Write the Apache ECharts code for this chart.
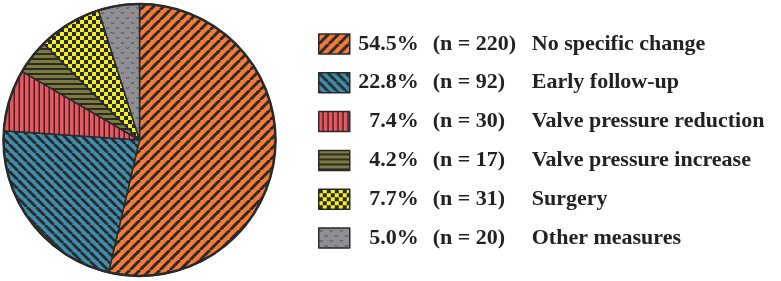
<!DOCTYPE html>
<html>
<head>
<meta charset="utf-8">
<script src="https://cdn.jsdelivr.net/npm/echarts@6/dist/echarts.min.js"></script>
<style>
html,body{margin:0;padding:0;background:#fff;}
#main{width:781px;height:281px;}
</style>
</head>
<body>
<div id="main"></div>
<script>
var names = ['No specific change','Early follow-up','Valve pressure reduction','Valve pressure increase','Surgery','Other measures'];
var counts = [220, 92, 30, 17, 31, 20];
var pcts = ['54.5%','22.8%','7.4%','4.2%','7.7%','5.0%'];

var dark = '#2a2a2a';
var font = 'bold 22px "Liberation Serif"';

// tiles for the hatch fills
function tile(w, h, bg, draw){
	var c = document.createElement('canvas');
	c.width = w; c.height = h;
	var ctx = c.getContext('2d');
	ctx.fillStyle = bg;
	ctx.fillRect(0, 0, w, h);
	ctx.strokeStyle = dark;
	ctx.fillStyle = dark;
	draw(ctx, w, h);
	return {image: c, repeat: 'repeat'};
}

function diag(ctx, s, lw, up){
	ctx.lineWidth = lw;
	for(var k=-s;k<=s;k+=s){
		ctx.beginPath();
		if(up){
			ctx.moveTo(k, s); ctx.lineTo(k+s, 0);
		}else{
			ctx.moveTo(k, 0); ctx.lineTo(k+s, s);
		}
		ctx.stroke();
	}
}

var fills = [
	tile(10, 10, '#f47a38', function(ctx){ diag(ctx, 10, 3, true); }),
	tile(9, 9, '#3e8fae', function(ctx){ diag(ctx, 9, 2.8, false); }),
	tile(5.5, 5, '#f0545f', function(ctx){ ctx.fillRect(3.5, 0, 2, 5); }),
	tile(5, 5, '#7d7b3c', function(ctx){ ctx.fillRect(0, 3, 5, 2); }),
	tile(8, 8, '#f2ef1e', function(ctx){ ctx.fillRect(0, 0, 4, 4); ctx.fillRect(4, 4, 4, 4); }),
	tile(10, 10, '#8e8e93', function(ctx){
		ctx.lineWidth = 1;
		ctx.strokeStyle = '#555';
		ctx.beginPath();
		ctx.moveTo(1, 2); ctx.lineTo(2.5, 4); ctx.lineTo(4, 2);
		ctx.moveTo(6, 7); ctx.lineTo(7.5, 9); ctx.lineTo(9, 7);
		ctx.stroke();
	})
];

var pieData = [];
for(var i=0;i<names.length;i++){
	pieData.push({name: names[i], value: counts[i], itemStyle: {color: fills[i]}});
}

var mctx = document.createElement('canvas').getContext('2d');
mctx.font = font;
function tw(s){ return mctx.measureText(s).width; }

var base = {fontFamily: 'Liberation Serif', fontSize: 22, fontWeight: 'bold', color: '#222', lineHeight: 20, align: 'left'};
function tok(extra){
	var o = {};
	for(var k in base) o[k] = base[k];
	for(var k in extra) o[k] = extra[k];
	return o;
}
var rich = {l: tok({})};
for(var i=0;i<names.length;i++){
	rich['g'+i] = tok({width: Math.max(1, 64 - tw(pcts[i]))});
	rich['s'+i] = tok({width: 14});
	rich['n'+i] = tok({width: 99});
}

var myChart = echarts.init(document.getElementById('main'));
var option = {
	animation: false,
	legend: {
		orient: 'vertical',
		left: 318,
		top: 33,
		padding: 0,
		icon: 'rect',
		itemWidth: 31,
		itemHeight: 20,
		itemGap: 16.8,
		itemStyle: {borderColor: dark, borderWidth: 1.5},
		data: names,
		formatter: function(name){
			var i = names.indexOf(name);
			return '{g'+i+'| }' + '{l|' + pcts[i] + '}{s'+i+'| }{n'+i+'|(n = ' + counts[i] + ')}{l|' + name + '}';
		},
		textStyle: {
			fontFamily: 'Liberation Serif',
			fontSize: 22,
			fontWeight: 'bold',
			color: '#222',
			lineHeight: 20,
			rich: rich
		}
	},
	series: [
		{
			name: 'measures',
			type: 'pie',
			center: [139.5, 140],
			radius: 136,
			startAngle: 90,
			clockwise: true,
			label: {show: false},
			labelLine: {show: false},
			emphasis: {disabled: true},
			itemStyle: {borderColor: dark, borderWidth: 1.5},
			data: pieData
		},
		{
			name: 'rim',
			type: 'pie',
			center: [139.5, 140],
			radius: 136,
			silent: true,
			label: {show: false},
			labelLine: {show: false},
			itemStyle: {color: 'rgba(0,0,0,0)', borderColor: dark, borderWidth: 2.5},
			data: [{name: 'rim', value: 1}]
		}
	]
};
myChart.setOption(option);
</script>
</body>
</html>
